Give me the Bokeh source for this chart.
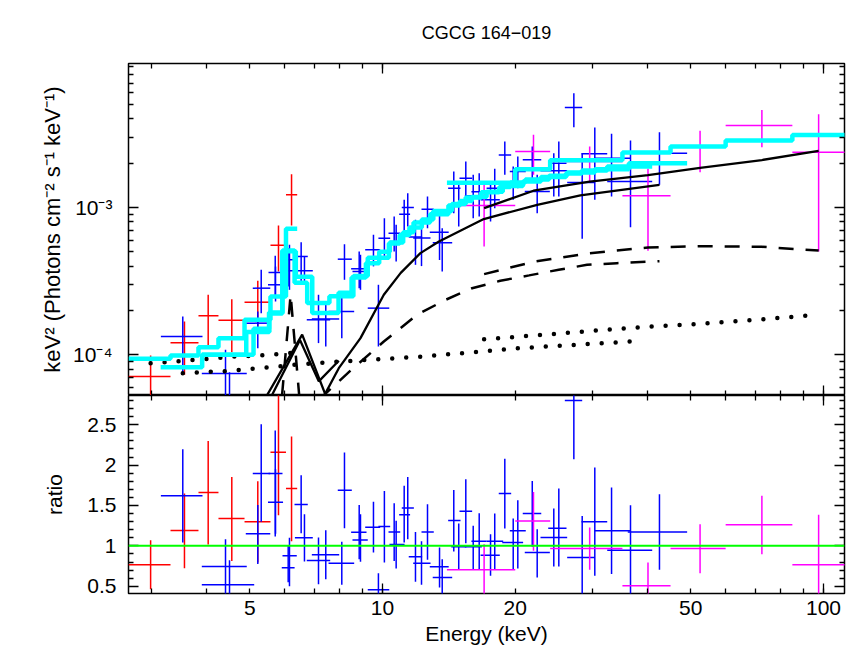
from bokeh.plotting import figure
from bokeh.models import Range1d, LogAxis, LinearAxis, FixedTicker, CustomJSTickFormatter, Span, Title
from bokeh.layouts import column
from bokeh.embed import file_html
from bokeh.resources import INLINE

# ---------------- data ----------------
TITLE = "CGCG 164\u2212019"
X_LABEL = "Energy (keV)"
Y_LABEL_TOP = "keV\u00b2 (Photons cm\u207b\u00b2 s\u207b\u00b9 keV\u207b\u00b9)"
Y_LABEL_BOTTOM = "ratio"

X_START, X_END = 2.655, 111.6
FLUX_START, FLUX_END = 5.29e-5, 9.5e-3
RATIO_START, RATIO_END = 0.41, 2.862
RATIO_UNITY = 1.0

X_LABELED = [5, 10, 20, 50, 100]
X_MINOR = [3, 4, 6, 7, 8, 9, 30, 40, 60, 70, 80, 90]
X_DECADES = [10, 100]
F_MAJOR = [1e-4, 1e-3]
F_MINOR = [6e-5, 7e-5, 8e-5, 9e-5, 2e-4, 3e-4, 4e-4, 5e-4, 6e-4, 7e-4, 8e-4, 9e-4,
           2e-3, 3e-3, 4e-3, 5e-3, 6e-3, 7e-3, 8e-3, 9e-3]
R_MAJOR = [0.5, 1, 1.5, 2, 2.5]
R_MINOR = [0.4, 0.6, 0.7, 0.8, 0.9, 1.1, 1.2, 1.3, 1.4, 1.6, 1.7, 1.8, 1.9,
           2.1, 2.2, 2.3, 2.4, 2.6, 2.7, 2.8]

# red data set
RED_E = [2.98, 3.556, 4.025, 4.553, 5.215, 5.81, 6.22]
RED_ELO = [2.655, 3.306, 3.826, 4.247, 4.866, 5.572, 6.042]
RED_EHI = [3.306, 3.826, 4.247, 4.866, 5.572, 6.042, 6.406]
RED_F = [7.13e-5, 1.206e-4, 1.84e-4, 1.718e-4, 2.275e-4, 5.55e-4, 1.22e-3]
RED_FLO = [4.5e-5, 7.31e-5, 1.12e-4, 1.041e-4, 1.5e-4, 3.68e-4, 7.55e-4]
RED_FHI = [9.89e-5, 1.683e-4, 2.555e-4, 2.385e-4, 3.18e-4, 7.55e-4, 1.683e-3]
RED_R = [0.765, 1.19, 1.66, 1.338, 1.30, 2.16, 1.71]
RED_RLO = [0.464, 0.724, 1.016, 0.814, 0.793, 1.38, 1.058]
RED_RHI = [1.07, 1.647, 2.30, 1.854, 1.80, 2.95, 2.353]
RED_MODEL = [9.39e-5, 9.89e-5, 1.126e-4, 1.297e-4, 1.728e-4, 2.487e-4, 7.17e-4]

# blue data sets
BLUE_E = [3.525, 4.406, 4.499, 5.215, 5.309, 5.712, 5.721, 6.153, 6.112, 6.54, 6.654, 7.16,
          7.437, 8.086, 8.2, 8.855, 8.915, 9.54, 9.79, 10.1, 10.63, 10.74, 11.2, 11.41, 11.88,
          12.26, 12.65, 13.47, 13.66, 14.51, 14.89, 15.45, 16.06, 16.57, 17.58, 17.97, 18.94,
          19.79, 20.27, 21.86, 22.43, 24.46, 25.11, 27.16, 28.37, 30.3, 33.07, 36.51, 42.47]
BLUE_ELO = [3.144, 3.893, 3.893, 4.898, 5.08, 5.515, 5.50, 5.933, 5.91, 6.317, 6.33, 6.734,
            6.915, 7.545, 7.918, 8.49, 8.55, 9.137, 9.26, 9.79, 10.32, 10.37, 10.91, 11.06, 11.47,
            11.74, 12.26, 12.8, 13.0, 14.09, 14.32, 14.95, 15.37, 15.91, 16.69, 17.22, 18.35,
            18.69, 19.44, 20.8, 21.02, 22.82, 23.76, 25.91, 26.23, 28.27, 30.3, 32.33, 35.99]
BLUE_EHI = [3.907, 4.923, 5.118, 5.566, 5.566, 5.933, 5.95, 6.392, 6.32, 6.77, 6.95, 7.61,
            7.977, 8.626, 8.52, 9.2, 9.26, 9.88, 10.36, 10.41, 10.97, 11.22, 11.55, 11.78, 12.30,
            12.85, 13.07, 14.13, 14.39, 15.03, 15.5, 15.97, 16.8, 17.22, 18.45, 18.78, 19.58,
            20.84, 21.13, 22.91, 23.96, 26.23, 26.14, 28.37, 30.3, 32.33, 36.51, 40.89, 49.07]
BLUE_F = [1.331e-4, 7.46e-5, 5.2e-5, 1.639e-4, 2.833e-4, 3.62e-4, 2.987e-4, 4.42e-4, 3.72e-4,
          4.65e-4, 3.72e-4, 1.728e-4, 1.75e-4, 1.967e-4, 4.457e-4, 3.836e-4, 3.677e-4, 5.16e-4,
          2.073e-4, 6.19e-4, 6.69e-4, 5.88e-4, 9.01e-4, 1.0e-3, 6.3e-4, 6.2e-4, 9.74e-4, 6.8e-4,
          5.76e-4, 1.352e-3, 1.043e-3, 1.581e-3, 1.2e-3, 1.28e-3, 1.128e-3, 1.352e-3, 2.275e-3,
          1.462e-3, 1.756e-3, 2.108e-3, 1.284e-3, 1.775e-3, 2.0e-3, 4.77e-3, 1.478e-3, 2.315e-3,
          2.162e-3, 1.5e-3, 2.336e-3]
BLUE_FLO = [7.31e-5, 4.5e-5, 3.0e-5, 1.109e-4, 1.916e-4, 2.42e-4, 2.3e-4, 2.76e-4, 2.91e-4,
            3.145e-4, 3.06e-4, 1.2e-4, 1.138e-4, 1.297e-4, 3.23e-4, 2.83e-4, 2.76e-4, 3.98e-4,
            1.138e-4, 4.53e-4, 5.03e-4, 4.3e-4, 6.36e-4, 7.43e-4, 4.08e-4, 4.0e-4, 7.24e-4, 4.4e-4,
            3.68e-4, 9.15e-4, 7.43e-4, 1.188e-3, 8.46e-4, 8.69e-4, 8.04e-4, 9.9e-4, 1.667e-3,
            1.128e-3, 1.352e-3, 1.501e-3, 9.15e-4, 1.188e-3, 1.188e-3, 3.51e-3, 6.13e-4, 1.128e-3,
            1.188e-3, 7.35e-4, 1.426e-3]
BLUE_FHI = [1.82e-4, 1.081e-4, 7.6e-5, 1.967e-4, 3.776e-4, 4.7e-4, 3.97e-4, 5.58e-4, 5.29e-4,
            5.81e-4, 4.65e-4, 2.555e-4, 2.3e-4, 2.487e-4, 5.63e-4, 5.03e-4, 4.77e-4, 6.53e-4,
            2.987e-4, 8.46e-4, 8.69e-4, 7.63e-4, 1.128e-3, 1.251e-3, 8.25e-4, 8.1e-4, 1.188e-3,
            8.8e-4, 7.24e-4, 1.755e-3, 1.501e-3, 2.053e-3, 1.667e-3, 1.71e-3, 1.501e-3, 1.83e-3,
            2.806e-3, 1.898e-3, 2.219e-3, 2.595e-3, 1.667e-3, 2.336e-3, 2.806e-3, 5.97e-3,
            2.336e-3, 3.49e-3, 3.165e-3, 2.85e-3, 3.245e-3]
BLUE_R = [1.619, 0.744, 0.517, 1.149, 1.895, 1.895, 1.54, 0.876, 0.728, 1.511, 1.099, 0.819,
          0.889, 0.786, 1.689, 1.17, 1.074, 1.231, 0.455, 1.239, 1.173, 1.016, 1.384, 1.47, 0.864,
          0.786, 1.173, 0.74, 0.608, 1.313, 0.988, 1.429, 0.988, 1.058, 0.885, 1.058, 1.647,
          1.041, 1.186, 1.40, 0.917, 1.103, 1.219, 2.80, 0.855, 1.297, 1.186, 0.947, 1.173]
BLUE_RLO = [1.041, 0.40, 0.30, 0.774, 1.297, 1.115, 1.15, 0.50, 0.55, 1.157, 0.806, 0.526,
            0.588, 0.517, 1.219, 0.835, 0.802, 0.917, 0.30, 0.793, 0.814, 0.719, 1.041, 1.083,
            0.554, 0.517, 0.827, 0.484, 0.30, 0.929, 0.70, 1.033, 0.712, 0.712, 0.629, 0.712,
            1.214, 0.712, 0.719, 0.988, 0.608, 0.744, 0.744, 2.073, 0.30, 0.629, 0.65, 0.30, 0.703]
BLUE_RHI = [2.197, 1.083, 0.823, 1.507, 2.506, 2.43, 1.95, 1.10, 1.0, 1.875, 1.392, 1.103,
            1.194, 1.05, 2.155, 1.507, 1.392, 1.545, 0.662, 1.68, 1.528, 1.31, 1.743, 1.854,
            1.173, 1.058, 1.516, 0.979, 0.835, 1.693, 1.276, 1.825, 1.248, 1.405, 1.145, 1.40,
            2.08, 1.338, 1.566, 1.804, 1.206, 1.462, 1.709, 3.0, 1.371, 1.969, 1.722, 1.504, 1.64]

FPMA_EDGES = [3.89, 4.91, 5.54, 5.93, 6.36, 6.93, 7.95, 8.51, 9.17, 9.83, 10.39, 11.14, 11.76,
              12.82, 14.11, 14.99, 15.94, 17.22, 18.74, 20.82, 22.87, 26.07, 28.32, 32.33, 40.89]
FPMA_MODEL = [1.0e-4, 1.43e-4, 1.91e-4, 5.05e-4, 3.38e-4, 1.92e-4, 2.64e-4, 3.35e-4, 4.19e-4,
              5.0e-4, 5.79e-4, 6.8e-4, 7.9e-4, 9.0e-4, 1.03e-3, 1.106e-3, 1.18e-3, 1.28e-3,
              1.40e-3, 1.5e-3, 1.61e-3, 1.70e-3, 1.785e-3, 1.9e-3]
FPMB_EDGES = [3.14, 3.9, 5.1, 5.53, 5.93, 6.32, 6.75, 7.58, 8.59, 9.26, 10.34, 10.94, 11.51,
              12.28, 13.04, 14.36, 15.44, 16.75, 18.4, 19.51, 21.08, 23.86, 26.2, 30.3, 36.2, 49.07]
FPMB_MODEL = [8.22e-5, 1.0e-4, 1.5e-4, 1.94e-4, 5.1e-4, 3.08e-4, 2.25e-4, 2.5e-4, 3.42e-4,
              4.56e-4, 5.7e-4, 6.5e-4, 7.3e-4, 8.3e-4, 9.47e-4, 1.056e-3, 1.17e-3, 1.27e-3,
              1.38e-3, 1.48e-3, 1.55e-3, 1.64e-3, 1.73e-3, 1.82e-3, 2.0e-3]

# magenta data set
MAG_E = [17, 22, 29.5, 40, 52.5, 72.5, 97.5]
MAG_ELO = [14, 20, 24, 35, 45, 60, 85]
MAG_EHI = [20, 24, 35, 45, 60, 85, 115]
MAG_F = [1.032e-3, 2.4e-3, 2.053e-3, 1.2e-3, 2.56e-3, 3.6e-3, 2.373e-3]
MAG_FLO = [5.43e-4, 1.667e-3, 1.501e-3, 5.08e-4, 1.736e-3, 2.566e-3, 5.03e-4]
MAG_FHI = [1.426e-3, 3.115e-3, 2.595e-3, 1.83e-3, 3.317e-3, 4.6e-3, 4.3e-3]
MAG_R = [0.703, 1.309, 0.967, 0.505, 0.967, 1.26, 0.765]
MAG_RLO = [0.30, 0.938, 0.703, 0.30, 0.662, 0.897, 0.30]
MAG_RHI = [1.021, 1.668, 1.226, 0.793, 1.269, 1.619, 1.384]
MAG_MODEL = [1.47e-3, 1.82e-3, 2.09e-3, 2.36e-3, 2.6e-3, 2.85e-3, 3.11e-3]

# model components
RED_DOT_F = [8.77e-5, 9.1e-5, 9.4e-5, 9.7e-5, 9.9e-5, 1.01e-4, 1.03e-4]
NU_DOT_E = [3.525, 4.45, 5.47, 6.34, 8.0, 12.2, 20.6, 36.51]
NU_DOT_F = [7.5e-5, 7.75e-5, 8.2e-5, 8.55e-5, 9.0e-5, 9.7e-5, 1.11e-4, 1.231e-4]
NU_DASH_E = [7.2, 8.46, 10.07, 11.98, 13.9, 15.96, 18.5, 21.5, 25.1, 29.1, 34.0, 42.47]
NU_DASH_F = [5.0e-5, 7.8e-5, 1.23e-4, 1.87e-4, 2.36e-4, 2.83e-4, 3.18e-4, 3.46e-4, 3.78e-4,
             4.08e-4, 4.19e-4, 4.32e-4]
NU_SOLID_E = [7.02, 7.96, 8.915, 10.07, 11.0, 12.19, 13.43, 16.97, 22.43, 28.1, 42.47]
NU_SOLID_F = [4.0e-5, 8.11e-5, 1.297e-4, 2.555e-4, 3.6e-4, 4.9e-4, 5.88e-4, 8.35e-4, 1.043e-3,
              1.207e-3, 1.426e-3]
MAG_SOLID_F = [9.9e-4, 1.3e-3, 1.5e-3, 1.66e-3, 1.86e-3, 2.1e-3, 2.42e-3]
MAG_DASH_F = [3.53e-4, 4.28e-4, 4.89e-4, 5.35e-4, 5.46e-4, 5.41e-4, 5.1e-4]
MAG_DOT_F = [1.276e-4, 1.35e-4, 1.45e-4, 1.55e-4, 1.62e-4, 1.74e-4, 1.87e-4]
FE_DASH_E = [5.85, 6.19, 6.55]
FE_DASH_F = [3.5e-5, 2.56e-4, 3.5e-5]
FE_A_E = [5.18, 6.575, 7.71]
FE_A_F = [4.0e-5, 1.37e-4, 4.0e-5]
FE_B_E = [5.35, 6.5, 7.17, 7.96]
FE_B_F = [4.0e-5, 1.26e-4, 6.6e-5, 9.1e-5]

# ---------------- styling ----------------
FONT = "Liberation Sans"
RED, BLUE, MAGENTA, CYAN, GREEN = "#ff0000", "#0000ff", "#ff00ff", "#00ffff", "#00ff00"

POW_CODE = """
const e = Math.round(Math.log10(tick));
const sup = {"-": "\u207b", "0": "\u2070", "1": "\u00b9", "2": "\u00b2", "3": "\u00b3",
             "4": "\u2074", "5": "\u2075", "6": "\u2076", "7": "\u2077", "8": "\u2078", "9": "\u2079"};
return "10" + String(e).split("").map((c) => sup[c]).join("");
"""
PLAIN_CODE = "return String(tick);"


def steps(edges, levels):
    xs, ys = [], []
    for i, lv in enumerate(levels):
        xs += [edges[i], edges[i + 1]]
        ys += [lv, lv]
    return xs, ys


def crosses(p, x, xlo, xhi, y, ylo, yhi, color):
    p.segment(x0=xlo, y0=y, x1=xhi, y1=y, line_color=color, line_width=1.5)
    p.segment(x0=x, y0=ylo, x1=x, y1=yhi, line_color=color, line_width=1.5)


def tick_style(ax, major_in, minor_in):
    ax.major_tick_in = major_in
    ax.major_tick_out = 0
    ax.minor_tick_in = minor_in
    ax.minor_tick_out = 0
    ax.major_tick_line_color = "black"
    ax.minor_tick_line_color = "black"
    ax.major_tick_line_width = 1.3
    ax.minor_tick_line_width = 1.3
    ax.axis_line_color = None
    ax.major_label_text_font = FONT
    ax.major_label_text_font_size = "21px"
    ax.major_label_text_color = "black"
    ax.axis_label_text_font = FONT
    ax.axis_label_text_font_size = "21px"
    ax.axis_label_text_font_style = "normal"
    ax.axis_label_text_color = "black"


def blank(ax):
    ax.major_label_text_color = None


def x_edge(p, side, loc, with_short=True):
    if with_short:
        a = LogAxis(ticker=FixedTicker(ticks=X_LABELED, minor_ticks=X_MINOR), fixed_location=loc)
        tick_style(a, 5, 5)
        blank(a)
        p.add_layout(a, side)
    b = LogAxis(ticker=FixedTicker(ticks=X_DECADES), fixed_location=loc)
    tick_style(b, 10, 0)
    blank(b)
    p.add_layout(b, side)


def frame_style(p):
    p.outline_line_color = "black"
    p.outline_line_width = 1.5
    p.outline_line_alpha = 1.0
    p.xgrid.visible = False
    p.ygrid.visible = False
    p.background_fill_color = "white"
    p.border_fill_color = "white"


x_range = Range1d(X_START, X_END)

# ---------------- top panel ----------------
top = figure(width=857, height=394, frame_width=716, frame_height=332,
             x_range=x_range, y_range=Range1d(FLUX_START, FLUX_END),
             x_axis_type="log", y_axis_type="log",
             x_axis_location=None, y_axis_location=None,
             min_border_left=128, min_border_right=13, min_border_top=62, min_border_bottom=0,
             output_backend="svg", toolbar_location=None)
frame_style(top)

main_title = Title(text=TITLE, align="center", text_font=FONT, text_font_size="18px",
                   text_font_style="normal", text_color="black", standoff=41)
top.add_layout(main_title, "above")

tl = LogAxis(ticker=FixedTicker(ticks=F_MAJOR, minor_ticks=F_MINOR),
             formatter=CustomJSTickFormatter(code=POW_CODE), axis_label=Y_LABEL_TOP)
tick_style(tl, 10, 5)
tl.axis_label_text_font_size = "22px"
tl.major_label_standoff = 16
tl.axis_label_standoff = 5
top.add_layout(tl, "left")
tr = LogAxis(ticker=FixedTicker(ticks=F_MAJOR, minor_ticks=F_MINOR), fixed_location=X_END)
tick_style(tr, 10, 5)
blank(tr)
top.add_layout(tr, "right")
x_edge(top, "below", FLUX_START)
x_edge(top, "above", FLUX_END)

crosses(top, RED_E, RED_ELO, RED_EHI, RED_F, RED_FLO, RED_FHI, RED)
crosses(top, BLUE_E, BLUE_ELO, BLUE_EHI, BLUE_F, BLUE_FLO, BLUE_FHI, BLUE)
crosses(top, MAG_E, MAG_ELO, MAG_EHI, MAG_F, MAG_FLO, MAG_FHI, MAGENTA)

DOT = dict(line_color="black", line_width=4.5, line_dash="0 14", line_cap="round")
DASH = dict(line_color="black", line_width=2.5, line_dash="15 12")
SOLID = dict(line_color="black", line_width=2.3)

top.line(RED_E, RED_DOT_F, **DOT)
top.line(NU_DOT_E, NU_DOT_F, **DOT)
top.line(MAG_E, MAG_DOT_F, **DOT)
top.line(NU_DASH_E, NU_DASH_F, **DASH)
top.line(MAG_E, MAG_DASH_F, **DASH)
top.line(FE_DASH_E, FE_DASH_F, **DASH)
top.line(NU_SOLID_E, NU_SOLID_F, **SOLID)
top.line(MAG_E, MAG_SOLID_F, **SOLID)
top.line(FE_A_E, FE_A_F, **SOLID)
top.line(FE_B_E, FE_B_F, **SOLID)

for edges, levels in ((RED_ELO + [RED_EHI[-1]], RED_MODEL),
                      (FPMA_EDGES, FPMA_MODEL),
                      (FPMB_EDGES, FPMB_MODEL),
                      (MAG_ELO + [MAG_EHI[-1]], MAG_MODEL)):
    xs, ys = steps(edges, levels)
    top.line(xs, ys, line_color=CYAN, line_width=4.5)

# ---------------- ratio panel ----------------
bot = figure(width=857, height=254, frame_width=716, frame_height=198,
             x_range=x_range, y_range=Range1d(RATIO_START, RATIO_END),
             x_axis_type="log", x_axis_location=None, y_axis_location=None,
             min_border_left=128, min_border_right=13, min_border_top=0, min_border_bottom=56,
             output_backend="svg", toolbar_location=None)
frame_style(bot)

bl = LinearAxis(ticker=FixedTicker(ticks=R_MAJOR, minor_ticks=R_MINOR),
                formatter=CustomJSTickFormatter(code=PLAIN_CODE), axis_label=Y_LABEL_BOTTOM)
tick_style(bl, 10, 5)
bl.major_label_standoff = 12
bl.axis_label_standoff = 18
bot.add_layout(bl, "left")
br = LinearAxis(ticker=FixedTicker(ticks=R_MAJOR, minor_ticks=R_MINOR), fixed_location=X_END)
tick_style(br, 10, 5)
blank(br)
bot.add_layout(br, "right")

bx = LogAxis(ticker=FixedTicker(ticks=X_LABELED, minor_ticks=X_MINOR),
             formatter=CustomJSTickFormatter(code=PLAIN_CODE), axis_label=X_LABEL)
tick_style(bx, 5, 5)
bx.major_label_standoff = 7
bx.axis_label_standoff = 4
bot.add_layout(bx, "below")
x_edge(bot, "below", RATIO_START, with_short=False)
x_edge(bot, "above", RATIO_END)

crosses(bot, RED_E, RED_ELO, RED_EHI, RED_R, RED_RLO, RED_RHI, RED)
crosses(bot, BLUE_E, BLUE_ELO, BLUE_EHI, BLUE_R, BLUE_RLO, BLUE_RHI, BLUE)
crosses(bot, MAG_E, MAG_ELO, MAG_EHI, MAG_R, MAG_RLO, MAG_RHI, MAGENTA)
bot.add_layout(Span(location=RATIO_UNITY, dimension="width", line_color=GREEN, line_width=2))

layout = column(top, bot, spacing=0)
with open("out.html", "w", encoding="utf-8") as f:
    f.write(file_html(layout, INLINE))
